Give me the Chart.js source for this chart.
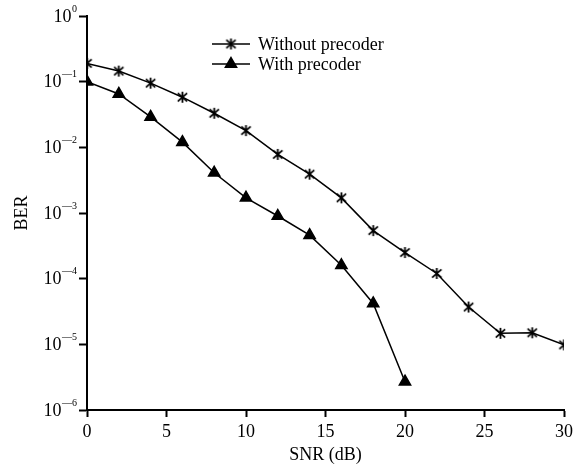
<!DOCTYPE html>
<html>
<head>
<meta charset="utf-8">
<script src="https://cdn.jsdelivr.net/npm/chart.js@4/dist/chart.umd.min.js"></script>
<style>
  html, body { margin: 0; padding: 0; background: #fff; }
  #wrap { width: 582px; height: 466px; }
</style>
</head>
<body>
<div id="wrap"><canvas id="berChart" width="582" height="466"></canvas></div>
<script>
// === Data ===
const snrNoPre = [0, 2, 4, 6, 8, 10, 12, 14, 16, 18, 20, 22, 24, 26, 28, 30];
const berNoPre = [0.19, 0.145, 0.095, 0.058, 0.033, 0.018, 0.0078, 0.0039, 0.0017,
                  0.00054, 0.00025, 0.00012, 0.000037, 0.0000147, 0.000015, 0.0000098];
const snrPre = [0, 2, 4, 6, 8, 10, 12, 14, 16, 18, 20];
const berPre = [0.1, 0.065, 0.029, 0.012, 0.0041, 0.0017, 0.0009, 0.00046, 0.00016,
                0.000042, 0.0000027];
const seriesNames = ["Without precoder", "With precoder"];
const xTicks = [0, 5, 10, 15, 20, 25, 30];
const yTickPowers = [0, -1, -2, -3, -4, -5, -6];

const FONT = "'Liberation Serif', 'Times New Roman', serif";
Chart.defaults.font.family = FONT;
Chart.defaults.color = "#000";

// marker bintang (X + garis tegak)
function asterisk(size) {
  const c = document.createElement("canvas");
  c.width = c.height = size;
  const g = c.getContext("2d");
  g.strokeStyle = "#000";
  g.lineWidth = 1.8;
  const m = size / 2, r = size / 2 - 1;
  g.beginPath();
  g.moveTo(m, m - r); g.lineTo(m, m + r);
  g.moveTo(m - r * 0.85, m - r * 0.75); g.lineTo(m + r * 0.85, m + r * 0.75);
  g.moveTo(m + r * 0.85, m - r * 0.75); g.lineTo(m - r * 0.85, m + r * 0.75);
  g.stroke();
  return c;
}
const starImg = asterisk(13);

const toXY = (xs, ys) => xs.map((x, i) => ({ x: x, y: ys[i] }));

// label sumbu Y (10 pangkat n) + legenda
const customText = {
  id: "customText",
  afterDraw(chart) {
    const ctx = chart.ctx;
    const y = chart.scales.y;
    ctx.save();
    ctx.fillStyle = "#000";
    ctx.textBaseline = "middle";
    yTickPowers.forEach(p => {
      const py = y.getPixelForValue(Math.pow(10, p));
      const exp = p === 0 ? "0" : "\u2014" + (-p);
      ctx.font = "10px " + FONT;
      ctx.textAlign = "right";
      const right = 77;
      ctx.fillText(exp, right, py - 7);
      const ew = ctx.measureText(exp).width;
      ctx.font = "18px " + FONT;
      ctx.fillText("10", right - ew - 0.5, py + 1);
    });

    // legenda
    const rows = [44, 64];
    chart.data.datasets.forEach((ds, i) => {
      const ly = rows[i];
      ctx.strokeStyle = "#000";
      ctx.lineWidth = 1.5;
      ctx.beginPath();
      ctx.moveTo(212, ly);
      ctx.lineTo(250, ly);
      ctx.stroke();
      ctx.fillStyle = "#000";
      Chart.helpers.drawPoint(ctx, {
        pointStyle: ds.pointStyle, radius: ds.pointRadius, rotation: 0, borderWidth: 1
      }, 231, ly);
      ctx.font = "18px " + FONT;
      ctx.textAlign = "left";
      ctx.textBaseline = "middle";
      ctx.fillText(ds.label, 258, ly + 1);
    });
    ctx.restore();
  }
};

new Chart(document.getElementById("berChart"), {
  type: "line",
  data: {
    datasets: [{
      label: seriesNames[0],
      data: toXY(snrNoPre, berNoPre),
      borderColor: "#000",
      backgroundColor: "#000",
      borderWidth: 1.5,
      pointStyle: starImg,
      pointRadius: 6,
      tension: 0
    }, {
      label: seriesNames[1],
      data: toXY(snrPre, berPre),
      borderColor: "#000",
      backgroundColor: "#000",
      borderWidth: 1.5,
      pointStyle: "triangle",
      pointRadius: 6.5,
      tension: 0
    }]
  },
  options: {
    responsive: false,
    animation: false,
    devicePixelRatio: 1,
    layout: { padding: { top: 16, right: 18, bottom: 0, left: 0 } },
    plugins: {
      legend: { display: false },
      tooltip: { enabled: false }
    },
    scales: {
      x: {
        type: "linear",
        min: 0,
        max: 30,
        afterBuildTicks: s => { s.ticks = xTicks.map(v => ({ value: v })); },
        afterFit: s => { s.height = 56; },
        ticks: { color: "#000", font: { size: 18 }, padding: 4, maxRotation: 0 },
        grid: { drawOnChartArea: false, tickLength: 7, tickColor: "#000", tickWidth: 2 },
        border: { display: true, color: "#000", width: 2 },
        title: { display: true, text: "SNR (dB)", color: "#000", font: { size: 18 }, padding: { top: 0, bottom: 0 } }
      },
      y: {
        type: "logarithmic",
        min: 1e-6,
        max: 1,
        afterBuildTicks: s => { s.ticks = yTickPowers.map(p => ({ value: Math.pow(10, p) })); },
        afterFit: s => { s.width = 87; },
        ticks: { display: false },
        grid: { drawOnChartArea: false, tickLength: 8, tickColor: "#000", tickWidth: 2 },
        border: { display: true, color: "#000", width: 2 },
        title: { display: true, text: "BER", color: "#000", font: { size: 18 }, padding: { top: 11, bottom: 0 } }
      }
    }
  },
  plugins: [customText]
});
</script>
</body>
</html>
